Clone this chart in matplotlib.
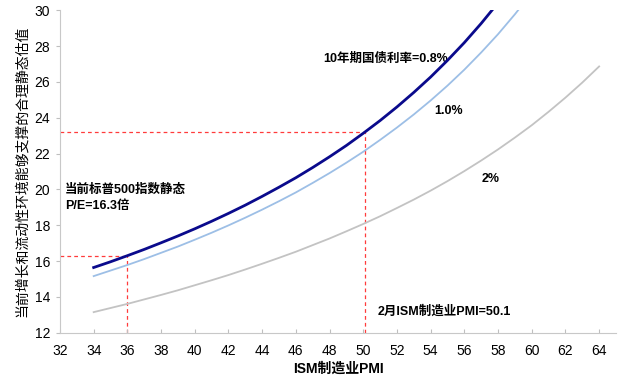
import matplotlib
matplotlib.use("Agg")
import matplotlib.pyplot as plt

plt.rcParams["font.family"] = ["Liberation Sans", "Noto Sans CJK SC", "DejaVu Sans"]

# ISM manufacturing PMI grid and the implied reasonable static P/E per 10y yield
pmi_dark = list(range(34, 59))
pe_08 = [15.64, 15.96, 16.30, 16.65, 17.02, 17.40, 17.80, 18.22, 18.66, 19.12,
         19.61, 20.12, 20.65, 21.22, 21.82, 22.45, 23.13, 23.84, 24.60, 25.41,
         26.27, 27.20, 28.19, 29.26, 30.41]
pmi_light = list(range(34, 61))
pe_10 = [15.16, 15.47, 15.78, 16.11, 16.46, 16.81, 17.19, 17.58, 17.99, 18.42,
         18.87, 19.34, 19.83, 20.36, 20.91, 21.49, 22.10, 22.76, 23.45, 24.18,
         24.96, 25.79, 26.68, 27.64, 28.66, 29.77, 30.96]
pmi_gray = list(range(34, 65))
pe_20 = [13.15, 13.38, 13.61, 13.86, 14.11, 14.37, 14.65, 14.93, 15.22, 15.53,
         15.85, 16.18, 16.52, 16.89, 17.26, 17.66, 18.07, 18.50, 18.96, 19.43,
         19.93, 20.46, 21.02, 21.61, 22.23, 22.89, 23.58, 24.33, 25.12, 25.96,
         26.86]

# reference points: current S&P 500 P/E and February PMI
ref_pmi = [36, 50.1]
ref_pe = [16.3, 23.2]

fig = plt.figure(figsize=(6.38, 3.91), dpi=100)
ax = fig.add_axes([0.094, 0.149, 0.8715, 0.825])

ax.plot(pmi_gray, pe_20, color="#C3C3C3", lw=1.3, zorder=2)
ax.plot(pmi_light, pe_10, color="#9DBFE6", lw=1.3, zorder=3)
ax.plot(pmi_dark, pe_08, color="#0A0A8C", lw=2.0, zorder=4)

for px, py in zip(ref_pmi, ref_pe):
    ax.plot([32, px], [py, py], color="#FF3B3B", lw=0.9, ls=(0, (3, 2.5)), zorder=1)
    ax.plot([px, px], [12, py], color="#FF3B3B", lw=0.9, ls=(0, (3, 2.5)), zorder=1)

ax.set_xlim(32, 65)
ax.set_ylim(12, 30)
ax.set_xticks(range(32, 65, 2))
ax.set_yticks(range(12, 31, 2))
ax.tick_params(axis="x", direction="in", length=3, color="#BFBFBF", labelsize=10, pad=8)
ax.tick_params(axis="y", direction="out", length=3, color="#BFBFBF", labelsize=10, pad=4)
for s in ["top", "right"]:
    ax.spines[s].set_visible(False)
for s in ["left", "bottom"]:
    ax.spines[s].set_color("#C8C8C8")

ax.set_xlabel("ISM制造业PMI", fontsize=10, fontweight="bold", labelpad=3)
ax.set_ylabel("当前增长和流动性环境能够支撑的合理静态估值", fontsize=10, labelpad=4)

kw = dict(fontsize=9, fontweight="bold", ha="left", va="center")
ax.text(47.6, 27.3, "10年期国债利率=0.8%", **kw)
ax.text(54.2, 24.4, "1.0%", **kw)
ax.text(57.0, 20.6, "2%", **kw)
ax.text(32.3, 20.0, "当前标普500指数静态", **kw)
ax.text(32.3, 19.1, "P/E=16.3倍", **kw)
ax.text(50.85, 13.2, "2月ISM制造业PMI=50.1", **kw)

fig.savefig("out.png", dpi=100)
